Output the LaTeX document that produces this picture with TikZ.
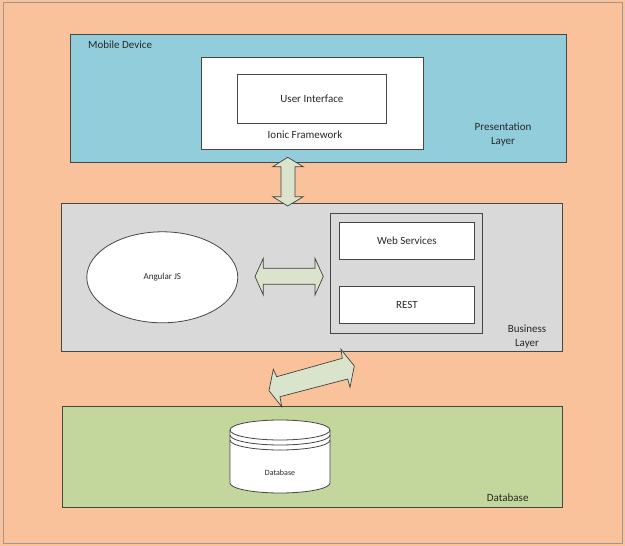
\documentclass[tikz,border=0pt]{standalone}
\usepackage{fontspec}
\setmainfont{Carlito}
\usetikzlibrary{shapes.geometric}
\definecolor{bgorange}{RGB}{250,194,154}
\definecolor{layerblue}{RGB}{146,205,220}
\definecolor{layergray}{RGB}{217,217,217}
\definecolor{layergreen}{RGB}{195,214,155}
\definecolor{arrowfill}{RGB}{218,228,204}
\definecolor{edgecol}{RGB}{70,70,70}
\definecolor{txt}{RGB}{40,40,40}
\begin{document}
\begin{tikzpicture}[x=1pt,y=-1pt,
  layer/.style={draw=edgecol, line width=0.9pt, inner sep=0pt, anchor=north west},
  box/.style={draw=edgecol, fill=white, line width=0.8pt, inner sep=0pt, anchor=north west,
    font=\fontsize{11}{13}\selectfont, text=txt},
  lbl/.style={font=\fontsize{11}{14}\selectfont, inner sep=0pt, text=txt, align=center},
  blockarrow/.style={draw=black!75, fill=arrowfill, line width=0.7pt, line join=miter}]
\useasboundingbox (0,0) rectangle (625,546);
\fill[bgorange] (0,0) rectangle (625,546);
\draw[black!40, line width=1pt] (3,2) rectangle (622.5,543.5);

% layers
\node[layer, fill=layerblue, minimum width=496pt, minimum height=128pt] (pres) at (70,34) {};
\node[layer, fill=layergray, minimum width=501pt, minimum height=148pt] (bus) at (61,203) {};
\node[layer, fill=layergreen, minimum width=500pt, minimum height=100.7pt] (dbl) at (61.7,406) {};

% presentation contents
\node[box, minimum width=222pt, minimum height=92pt] (ionic) at (200.7,56.7) {};
\node[box, minimum width=149pt, minimum height=48.7pt] (ui) at (237,74) {};
\node[lbl] (uit) at (ui.center) {User Interface};
\node[lbl] (ionict) at (305,135) {Ionic Framework};
\node[lbl, anchor=west] (mobt) at (88,45) {Mobile Device};
\node[lbl] (prest) at (503,135) {Presentation\\Layer};

% business contents
\node[box, fill=layergray, minimum width=152pt, minimum height=120pt] (cont) at (330,212.7) {};
\node[box, minimum width=135pt, minimum height=37pt] (ws) at (339,222) {};
\node[lbl] (wst) at (ws.center) {Web Services};
\node[box, minimum width=135pt, minimum height=37pt] (rest) at (339,286) {};
\node[lbl] (restt) at (rest.center) {REST};
\node[ellipse, draw=edgecol, fill=white, line width=0.8pt, minimum width=151pt, minimum height=91pt,
  inner sep=0pt, font=\fontsize{9}{11}\selectfont, text=txt] (ang) at (162.3,277.3) {Angular JS};
\node[lbl] (bust) at (527,337) {Business\\Layer};

% database contents
\filldraw[draw=edgecol, fill=white, line width=0.8pt]
  (230,430) -- (230,483) arc[start angle=180,end angle=360,x radius=50pt,y radius=10pt]
  -- (330,430) arc[start angle=0,end angle=180,x radius=50pt,y radius=10pt] -- cycle;
\draw[edgecol, line width=0.8pt] (230,430) arc[start angle=180,end angle=360,x radius=50pt,y radius=10pt];
\draw[edgecol, line width=0.8pt] (230,435) arc[start angle=180,end angle=360,x radius=50pt,y radius=10pt];
\draw[edgecol, line width=0.8pt] (230,440) arc[start angle=180,end angle=360,x radius=50pt,y radius=10pt];
\node[font=\fontsize{8}{10}\selectfont, text=txt, inner sep=0pt] (dbt) at (280,473) {Database};
\node[lbl] (dblt) at (507.7,498) {Database};

% block arrows
\filldraw[blockarrow] (287.7,157.3) -- (303.3,166.7) -- (295,166.7) -- (295,196.7) -- (303.3,196.7)
  -- (287.7,206) -- (272.7,196.7) -- (281,196.7) -- (281,166.7) -- (272.7,166.7) -- cycle;
\filldraw[blockarrow] (255,276.5) -- (263.3,258.3) -- (263.3,268.3) -- (315,268.3) -- (315,258.3)
  -- (323.3,276.5) -- (315,295) -- (315,284.3) -- (263.3,284.3) -- (263.3,295) -- cycle;
\filldraw[blockarrow] (269,390.7) -- (273.3,369.3) -- (276.7,376.7) -- (342.3,358.3) -- (341,349.3)
  -- (354.3,366) -- (350,387.3) -- (347.7,379) -- (280,396.7) -- (281.7,406.7) -- cycle;
\end{tikzpicture}
\end{document}
